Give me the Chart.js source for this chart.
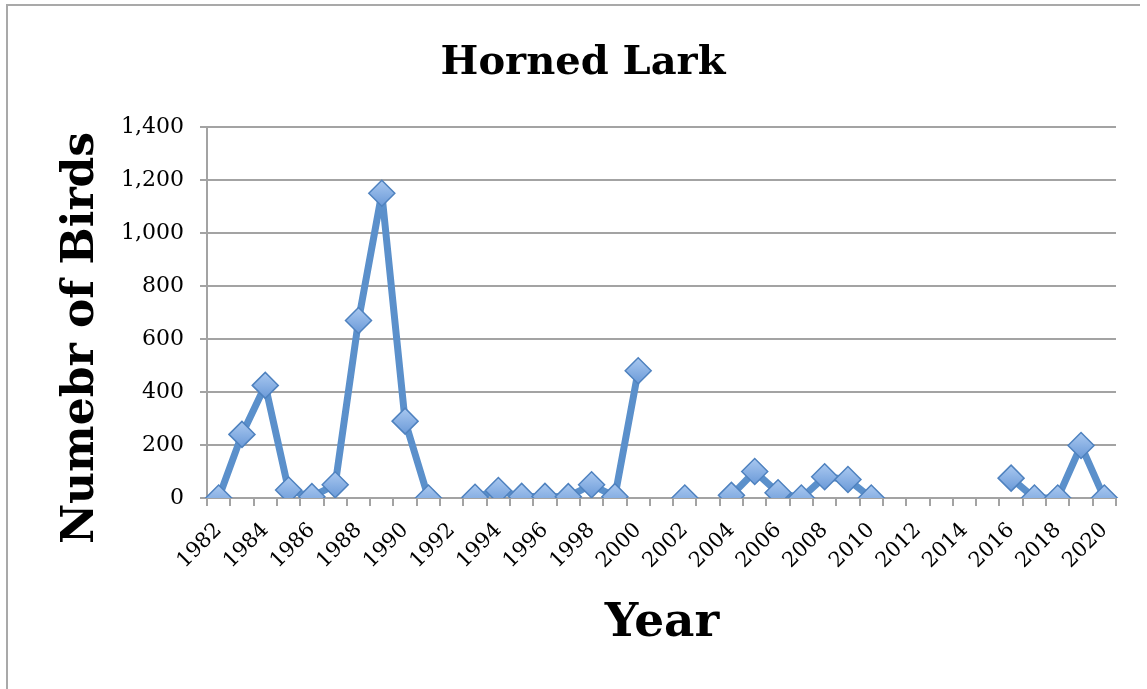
<!DOCTYPE html>
<html>
<head>
<meta charset="utf-8">
<script src="https://cdn.jsdelivr.net/npm/chart.js@4.4.1/dist/chart.umd.min.js"></script>
<style>
  html, body { margin: 0; padding: 0; background: #fff; }
  #wrap { position: relative; width: 1147px; height: 689px; overflow: hidden; }
  #frame {
    position: absolute; left: 6px; top: 4px; width: 1132px; height: 700px;
    border-left: 2px solid #a9a9a9; border-top: 2px solid #a9a9a9;
  }
  canvas { position: absolute; left: 0; top: 0; }
</style>
</head>
<body>
<div id="wrap">
  <div id="frame"></div>
  <canvas id="chart" width="1147" height="689"></canvas>
</div>
<script>
// Horned Lark counts per year (null = no count)
const years = [
  '1982', '1983', '1984', '1985', '1986', '1987', '1988', '1989', '1990', '1991',
  '1992', '1993', '1994', '1995', '1996', '1997', '1998', '1999', '2000', '2001',
  '2002', '2003', '2004', '2005', '2006', '2007', '2008', '2009', '2010', '2011',
  '2012', '2013', '2014', '2015', '2016', '2017', '2018', '2019', '2020'
];
const birds = [
  0, 240, 425, 30, 5, 50, 670, 1150, 290, 0,
  null, 3, 28, 6, 6, 5, 50, 5, 480, null,
  0, null, 10, 100, 20, 0, 80, 70, 0, null,
  null, null, null, null, 75, 0, 0, 198, 0
];
const yTicks = [0, 200, 400, 600, 800, 1000, 1200, 1400];

const chartTitle = 'Horned Lark';
const xTitle = 'Year';
const yTitle = 'Numebr of Birds';

const serif = '"DejaVu Serif", "Liberation Serif", serif';
const gridGray = '#a3a3a3';

// plot box
const PLOT_LEFT = 207;
const PLOT_RIGHT = 1116;
const PLOT_TOP = 127;
const PLOT_BOTTOM = 498;

// titles drawn by hand so they sit where the original has them
const titlesPlugin = {
  id: 'titles',
  afterDraw(chart) {
    const ctx = chart.ctx;
    ctx.save();
    ctx.fillStyle = '#000';
    ctx.textAlign = 'center';
    ctx.textBaseline = 'middle';

    ctx.font = 'bold 40px ' + serif;
    ctx.fillText(chartTitle, 583, 64);

    ctx.font = 'bold 47px ' + serif;
    ctx.fillText(xTitle, 662, 624);

    ctx.translate(82, 338);
    ctx.rotate(-Math.PI / 2);
    ctx.font = 'bold 44px ' + serif;
    ctx.fillText(yTitle, 0, 0);
    ctx.restore();
  }
};

// light-to-darker blue fill for the diamonds
function markerFill(context) {
  const el = context.element;
  if (!el || el.y == null || isNaN(el.y)) return '#82ade3';
  const g = context.chart.ctx.createLinearGradient(0, el.y - 13, 0, el.y + 13);
  g.addColorStop(0, '#a9c8f0');
  g.addColorStop(1, '#6b9ad8');
  return g;
}

const ctx = document.getElementById('chart').getContext('2d');
new Chart(ctx, {
  type: 'line',
  data: {
    labels: years,
    datasets: [{
      label: chartTitle,
      data: birds,
      borderColor: '#5b90cb',
      borderWidth: 7,
      borderJoinStyle: 'round',
      spanGaps: false,
      tension: 0,
      pointStyle: 'rectRot',
      pointRadius: 13,
      pointBackgroundColor: markerFill,
      pointBorderColor: '#4f82bf',
      pointBorderWidth: 1.5
    }]
  },
  options: {
    responsive: false,
    animation: false,
    layout: {
      padding: { left: 0, top: PLOT_TOP, right: 1147 - PLOT_RIGHT, bottom: 0 }
    },
    plugins: {
      legend: { display: false },
      tooltip: { enabled: false },
      title: { display: false }
    },
    scales: {
      x: {
        type: 'category',
        offset: true,
        afterFit(scale) { scale.height = 689 - PLOT_BOTTOM; },
        grid: {
          offset: true,
          drawOnChartArea: false,
          drawTicks: true,
          tickLength: 8,
          color: gridGray,
          lineWidth: 2
        },
        border: { display: true, color: gridGray, width: 2 },
        ticks: {
          autoSkip: false,
          maxRotation: 45,
          minRotation: 45,
          padding: 12,
          color: '#000',
          font: { family: serif, size: 21 },
          callback(val, i) { return i % 2 === 0 ? years[i] : ''; }
        }
      },
      y: {
        min: 0,
        max: 1400,
        afterFit(scale) { scale.width = PLOT_LEFT; },
        afterBuildTicks(scale) { scale.ticks = yTicks.map(v => ({ value: v })); },
        grid: {
          color: gridGray,
          lineWidth: 2,
          tickLength: 7
        },
        border: { display: true, color: gridGray, width: 2 },
        ticks: {
          padding: 16,
          color: '#000',
          font: { family: serif, size: 22 },
          callback(v) { return v.toLocaleString('en-US'); }
        }
      }
    }
  },
  plugins: [titlesPlugin]
});
</script>
</body>
</html>
